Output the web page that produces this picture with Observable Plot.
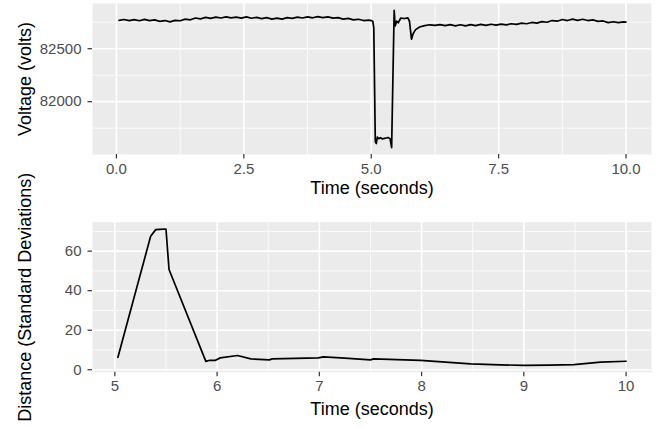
<!DOCTYPE html>
<html>
<head>
<meta charset="utf-8">
<script src="https://cdn.jsdelivr.net/npm/d3@7"></script>
<script src="https://cdn.jsdelivr.net/npm/@observablehq/plot@0.6"></script>
<style>
  html, body { margin: 0; padding: 0; background: white; }
  #chart svg { display: block; }
</style>
</head>
<body>
<div id="chart"></div>
<script>
// ---- Data ----
const voltTime = [
  0.05,0.15,0.25,0.35,0.45,0.55,0.65,0.75,0.85,0.95,
  1.05,1.15,1.25,1.35,1.45,1.55,1.65,1.75,1.85,1.95,
  2.05,2.15,2.25,2.35,2.45,2.55,2.65,2.75,2.85,2.95,
  3.05,3.15,3.25,3.35,3.45,3.55,3.65,3.75,3.85,3.95,
  4.05,4.15,4.25,4.35,4.45,4.55,4.65,4.75,4.85,4.95,
  5.00,5.03,5.05,5.08,5.10,5.12,5.15,5.18,5.22,5.28,5.33,5.37,5.40,
  5.45,5.47,5.50,5.53,5.58,5.65,5.72,5.75,5.79,5.82,5.87,5.95,6.05,6.15,
  6.25,6.35,6.45,6.55,6.65,6.75,6.85,6.95,7.05,7.15,
  7.25,7.35,7.45,7.55,7.65,7.75,7.85,7.95,8.05,8.15,
  8.25,8.35,8.45,8.55,8.65,8.75,8.85,8.95,9.05,9.15,
  9.25,9.35,9.45,9.55,9.65,9.75,9.85,9.95,10.00
];
const voltValue = [
  82768,82776,82766,82775,82764,82777,82765,82772,82758,82766,
  82754,82768,82764,82779,82773,82790,82782,82796,82787,82799,
  82790,82801,82791,82799,82789,82801,82788,82796,82784,82793,
  82779,82789,82779,82793,82786,82798,82790,82801,82792,82803,
  82794,82801,82789,82794,82780,82786,82772,82778,82766,82770,
  82766,82760,82700,81620,81605,81665,81650,81660,81648,81655,81662,81650,81566,
  82862,82715,82760,82745,82790,82785,82792,82760,82590,82640,82680,82705,82718,82726,
  82720,82728,82718,82727,82716,82726,82716,82728,82718,82730,
  82720,82731,82723,82733,82725,82736,82730,82742,82736,82748,
  82742,82756,82750,82766,82760,82776,82766,82780,82768,82778,
  82766,82772,82758,82762,82746,82755,82746,82754,82752
];
const distTime = [5.03,5.35,5.40,5.44,5.50,5.53,5.89,5.93,5.98,6.03,6.20,6.33,6.51,6.54,6.99,7.04,7.21,7.50,7.53,7.99,8.48,8.77,9.00,9.25,9.49,9.75,10.00];
const distValue = [6.3,67.5,70.9,71.0,71.2,50.7,4.2,4.8,4.7,6.0,7.2,5.5,5.0,5.5,6.0,6.5,6.0,5.0,5.5,4.7,3.0,2.5,2.2,2.3,2.6,3.8,4.3];

const topXTicks = [0, 2.5, 5, 7.5, 10];
const topXMinor = [1.25, 3.75, 6.25, 8.75];
const topYTicks = [82000, 82500];
const topYMinor = [81750, 82250, 82750];
const botXTicks = [5, 6, 7, 8, 9, 10];
const botXMinor = [5.5, 6.5, 7.5, 8.5, 9.5];
const botYTicks = [0, 20, 40, 60];
const botYMinor = [10, 30, 50, 70];

const xTitle = "Time (seconds)";
const topYTitle = "Voltage (volts)";
const botYTitle = "Distance (Standard Deviations)";

// ---- Build tables ----
const voltData = voltTime.map((t, i) => ({t, v: voltValue[i]}));
const distData = distTime.map((t, i) => ({t, d: distValue[i]}));

const FONT = "'Liberation Sans', Arial, Helvetica, sans-serif";
const BG = "#EBEBEB";

function panel({data, yKey, height, marginTop, marginBottom, xDomain, yDomain,
                xTicks, xMinor, yTicks, yMinor, xFormat, xTitleDy, yTitle}) {
  return Plot.plot({
    width: 656,
    height,
    marginLeft: 92,
    marginRight: 5,
    marginTop,
    marginBottom,
    x: {domain: xDomain},
    y: {domain: yDomain},
    style: {fontFamily: FONT, background: "transparent", overflow: "visible"},
    marks: [
      Plot.frame({fill: BG, stroke: null}),
      Plot.gridX(xMinor, {stroke: "white", strokeOpacity: 1, strokeWidth: 0.8}),
      Plot.gridY(yMinor, {stroke: "white", strokeOpacity: 1, strokeWidth: 0.8}),
      Plot.gridX(xTicks, {stroke: "white", strokeOpacity: 1, strokeWidth: 1.6}),
      Plot.gridY(yTicks, {stroke: "white", strokeOpacity: 1, strokeWidth: 1.6}),
      Plot.axisX(xTicks, {label: null, tickSize: 4.5, tickPadding: 4, fontSize: 15,
        stroke: "#333333", strokeWidth: 1.2, fill: "#4D4D4D", tickFormat: xFormat}),
      Plot.axisY(yTicks, {label: null, tickSize: 4.5, tickPadding: 6.5, fontSize: 15,
        stroke: "#333333", strokeWidth: 1.2, fill: "#4D4D4D", tickFormat: d => String(d)}),
      Plot.line(data, {x: "t", y: yKey, stroke: "black", strokeWidth: 1.7, curve: "linear"}),
      Plot.text([xTitle], {text: d => d, frameAnchor: "bottom", lineAnchor: "middle", textAnchor: "middle",
        dy: xTitleDy, fontSize: 18, fill: "black"}),
      Plot.text([yTitle], {text: d => d, frameAnchor: "left", lineAnchor: "middle", textAnchor: "middle",
        rotate: -90, dx: -67, fontSize: 18, fill: "black"})
    ]
  });
}

const topPanel = panel({
  data: voltData, yKey: "v", height: 205, marginTop: 3, marginBottom: 51,
  xDomain: [-0.47, 10.5], yDomain: [81501, 82927],
  xTicks: topXTicks, xMinor: topXMinor, yTicks: topYTicks, yMinor: topYMinor,
  xFormat: d => d.toFixed(1), xTitleDy: 34, yTitle: topYTitle
});
const bottomPanel = panel({
  data: distData, yKey: "d", height: 224, marginTop: 16.7, marginBottom: 57.3,
  xDomain: [4.7815, 10.2485], yDomain: [-1.25, 74.65],
  xTicks: botXTicks, xMinor: botXMinor, yTicks: botYTicks, yMinor: botYMinor,
  xFormat: d => String(d), xTitleDy: 37, yTitle: botYTitle
});
const chartEl = document.getElementById("chart");
chartEl.appendChild(topPanel);
chartEl.appendChild(bottomPanel);
</script>
</body>
</html>
